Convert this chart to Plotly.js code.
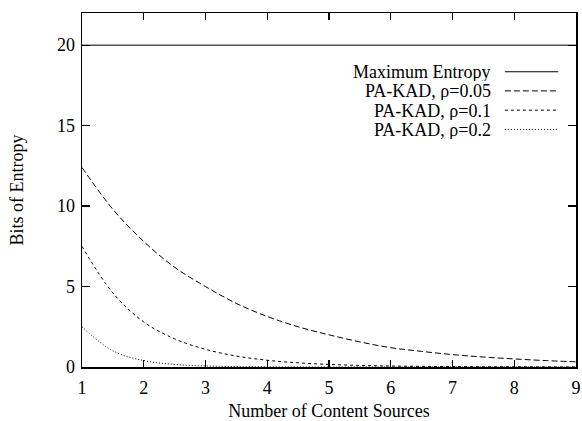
<!DOCTYPE html>
<html>
<head>
<meta charset="utf-8">
<script src="https://cdn.plot.ly/plotly-3.0.1.min.js"></script>
<style>html,body{margin:0;padding:0;background:#fff;}</style>
</head>
<body>
<div id="chart" style="width:582px;height:421px;"></div>
<script>
// Data
var xMax = [1, 9];
var yMax = [20, 20];

var xHalf = [1, 1.5, 2, 2.5, 3, 3.5, 4, 4.5, 5, 5.5, 6, 6.5, 7, 7.5, 8, 8.5, 9];
var yRho005 = [12.4, 9.8, 7.8, 6.2, 5.0, 3.95, 3.14, 2.5, 2.0, 1.56, 1.2, 0.97, 0.77, 0.62, 0.5, 0.4, 0.32];
var yRho01  = [7.5, 4.6, 2.8, 1.75, 1.1, 0.68, 0.42, 0.26, 0.16, 0.1, 0.06, 0.04, 0.025, 0.015, 0.01, 0.006, 0.004];
var yRho02  = [2.5, 1.0, 0.4, 0.16, 0.065, 0.026, 0.01, 0.004, 0.0016, 0.0007, 0.0003, 0.0001, 0.00005, 0.00002, 0.00001, 0.000005, 0.000002];

var seriesNames = ["Maximum Entropy", "PA-KAD, \u03C1=0.05", "PA-KAD, \u03C1=0.1", "PA-KAD, \u03C1=0.2"];
var xTicks = [1, 2, 3, 4, 5, 6, 7, 8, 9];
var yTicks = [0, 5, 10, 15, 20];

var dashes = ["solid", "6px,3px", "3px,3px", "1px,2px"];
var FONT = "Liberation Serif, Times New Roman, serif";
var FS = 18;

var traces = [
  {x: xMax, y: yMax, name: seriesNames[0]},
  {x: xHalf, y: yRho005, name: seriesNames[1]},
  {x: xHalf, y: yRho01, name: seriesNames[2]},
  {x: xHalf, y: yRho02, name: seriesNames[3]}
].map(function (t, i) {
  t.type = "scatter";
  t.mode = "lines";
  t.showlegend = false;
  t.line = {color: "#000", width: 1, dash: dashes[i], shape: "spline", smoothing: 1};
  return t;
});

// Legend drawn gnuplot style: right-aligned text, sample on the right
var rowsY = [0.834, 0.780, 0.7255, 0.671];
var annotations = seriesNames.map(function (n, i) {
  return {xref: "paper", yref: "paper", x: 0.832, y: rowsY[i], text: n,
          showarrow: false, xanchor: "right", yanchor: "middle",
          height: 19, valign: "middle",
          font: {family: FONT, size: FS, color: "#000"}};
});
var shapes = seriesNames.map(function (n, i) {
  return {type: "line", xref: "paper", yref: "paper",
          x0: 0.856, x1: 0.964, y0: rowsY[i], y1: rowsY[i],
          line: {color: "#000", width: 1, dash: dashes[i]}};
});

var layout = {
  width: 582, height: 421,
  margin: {l: 82, r: 6, t: 13, b: 54, pad: 0},
  paper_bgcolor: "#fff", plot_bgcolor: "#fff",
  font: {family: FONT, size: FS, color: "#000"},
  showlegend: false,
  xaxis: {
    range: [1, 9], tickvals: xTicks, ticktext: xTicks.map(String),
    ticks: "inside", ticklen: 7, tickwidth: 1.2, tickcolor: "#000",
    showline: true, linecolor: "#000", linewidth: 1.5, mirror: "ticks",
    showgrid: false, zeroline: false, ticklabelstandoff: 4,
    tickfont: {family: FONT, size: FS},
    title: {text: "Number of Content Sources", font: {family: FONT, size: FS}, standoff: 12}
  },
  yaxis: {
    range: [0, 22], tickvals: yTicks, ticktext: yTicks.map(String),
    ticks: "inside", ticklen: 8, tickwidth: 1.2, tickcolor: "#000",
    showline: true, linecolor: "#000", linewidth: 1.5, mirror: "ticks",
    showgrid: false, zeroline: false, ticklabelstandoff: 2,
    tickfont: {family: FONT, size: FS},
    title: {text: "Bits of Entropy", font: {family: FONT, size: FS}, standoff: 28}
  },
  annotations: annotations,
  shapes: shapes
};

Plotly.newPlot("chart", traces, layout, {staticPlot: true, displayModeBar: false});
</script>
</body>
</html>
